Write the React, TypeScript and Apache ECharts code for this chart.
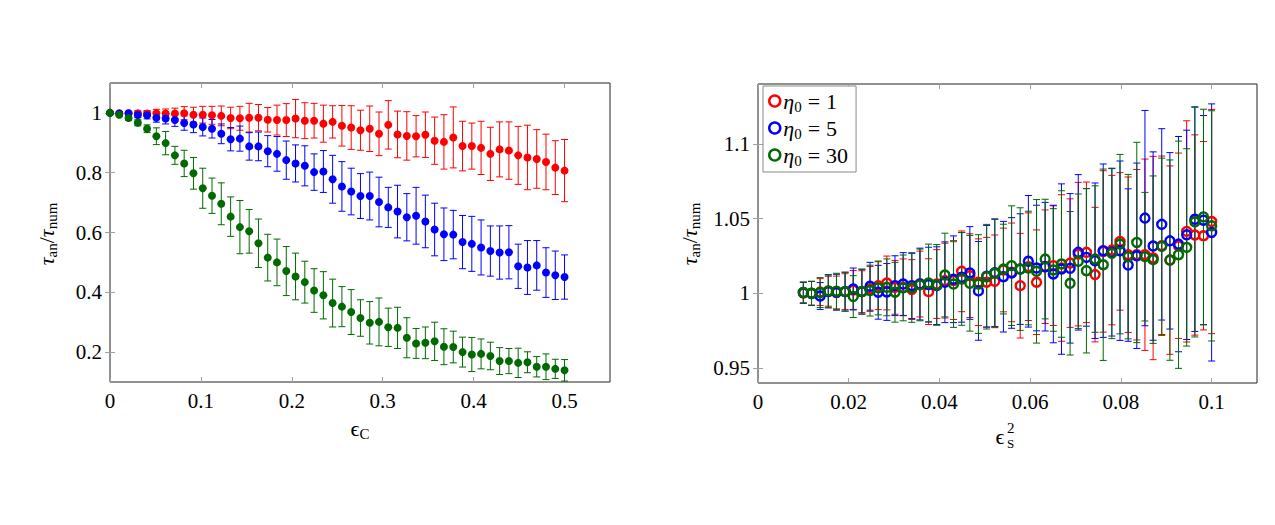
import { useEffect, useRef } from 'react';
import * as echarts from 'echarts';

// ---- left panel: tau_an / tau_num versus epsilon_C ----
const epsC = [
  0, 0.0102, 0.0204, 0.0306, 0.0408, 0.051, 0.0612, 0.0714, 0.0816, 0.0918,
  0.102, 0.1122, 0.1224, 0.1327, 0.1429, 0.1531, 0.1633, 0.1735, 0.1837, 0.1939,
  0.2041, 0.2143, 0.2245, 0.2347, 0.2449, 0.2551, 0.2653, 0.2755, 0.2857, 0.2959,
  0.3061, 0.3163, 0.3265, 0.3367, 0.3469, 0.3571, 0.3673, 0.3776, 0.3878, 0.398,
  0.4082, 0.4184, 0.4286, 0.4388, 0.449, 0.4592, 0.4694, 0.4796, 0.4898, 0.5,
];
const leftRed = [
  1.0, 0.999, 0.999, 0.999, 0.998, 0.999, 0.998, 0.998, 0.999, 0.994,
  0.994, 0.992, 0.99, 0.983, 0.982, 0.984, 0.984, 0.977, 0.976, 0.976,
  0.981, 0.974, 0.974, 0.964, 0.97, 0.957, 0.951, 0.942, 0.947, 0.93,
  0.96, 0.928, 0.923, 0.922, 0.927, 0.907, 0.903, 0.918, 0.889, 0.889,
  0.883, 0.863, 0.878, 0.874, 0.858, 0.851, 0.846, 0.836, 0.817, 0.807,
];
const leftRedErr = [
  0, 0.003, 0.005, 0.008, 0.01, 0.013, 0.015, 0.018, 0.022, 0.025,
  0.028, 0.03, 0.033, 0.036, 0.04, 0.048, 0.044, 0.041, 0.05, 0.055,
  0.064, 0.06, 0.058, 0.062, 0.054, 0.068, 0.073, 0.067, 0.076, 0.073,
  0.081, 0.078, 0.081, 0.069, 0.076, 0.079, 0.091, 0.102, 0.083, 0.077,
  0.089, 0.089, 0.092, 0.096, 0.097, 0.108, 0.098, 0.093, 0.09, 0.104,
];
const leftBlue = [
  1.0, 0.998, 0.999, 0.993, 0.992, 0.984, 0.981, 0.976, 0.966, 0.961,
  0.953, 0.947, 0.93, 0.912, 0.914, 0.888, 0.888, 0.872, 0.863, 0.842,
  0.831, 0.823, 0.802, 0.804, 0.778, 0.754, 0.737, 0.722, 0.722, 0.702,
  0.684, 0.67, 0.651, 0.656, 0.637, 0.61, 0.594, 0.593, 0.568, 0.562,
  0.55, 0.538, 0.533, 0.534, 0.487, 0.483, 0.49, 0.466, 0.457, 0.451,
];
const leftBlueErr = [
  0, 0.003, 0.006, 0.009, 0.012, 0.015, 0.018, 0.021, 0.024, 0.027,
  0.03, 0.031, 0.033, 0.039, 0.042, 0.046, 0.048, 0.052, 0.058, 0.064,
  0.062, 0.067, 0.061, 0.07, 0.08, 0.083, 0.078, 0.075, 0.08, 0.083,
  0.067, 0.088, 0.079, 0.095, 0.088, 0.088, 0.088, 0.081, 0.089, 0.092,
  0.092, 0.084, 0.089, 0.089, 0.074, 0.09, 0.083, 0.083, 0.081, 0.074,
];
const leftGreen = [
  1.0, 0.994, 0.983, 0.967, 0.947, 0.922, 0.899, 0.858, 0.831, 0.798,
  0.748, 0.723, 0.696, 0.653, 0.618, 0.604, 0.564, 0.516, 0.5, 0.471,
  0.453, 0.434, 0.406, 0.39, 0.364, 0.352, 0.334, 0.314, 0.298, 0.301,
  0.283, 0.281, 0.248, 0.229, 0.231, 0.236, 0.218, 0.217, 0.2, 0.192,
  0.194, 0.187, 0.17, 0.17, 0.164, 0.166, 0.151, 0.151, 0.144, 0.139,
];
const leftGreenErr = [
  0, 0.004, 0.008, 0.01, 0.013, 0.028, 0.039, 0.03, 0.044, 0.053,
  0.067, 0.059, 0.07, 0.066, 0.089, 0.073, 0.081, 0.078, 0.078, 0.082,
  0.078, 0.07, 0.073, 0.079, 0.08, 0.067, 0.075, 0.061, 0.071, 0.08,
  0.064, 0.069, 0.067, 0.05, 0.053, 0.064, 0.06, 0.053, 0.05, 0.057,
  0.05, 0.046, 0.045, 0.042, 0.049, 0.035, 0.034, 0.043, 0.032, 0.036,
];

// ---- right panel: tau_an / tau_num versus epsilon_S^2 for three eta_0 ----
const epsS2 = [
  0.01, 0.0118, 0.0137, 0.0155, 0.0173, 0.0192, 0.021, 0.0229, 0.0247, 0.0265,
  0.0284, 0.0302, 0.032, 0.0339, 0.0357, 0.0376, 0.0394, 0.0412, 0.0431, 0.0449,
  0.0467, 0.0486, 0.0504, 0.0522, 0.0541, 0.0559, 0.0578, 0.0596, 0.0614, 0.0633,
  0.0651, 0.0669, 0.0688, 0.0706, 0.0724, 0.0743, 0.0761, 0.078, 0.0798, 0.0816,
  0.0835, 0.0853, 0.0871, 0.089, 0.0908, 0.0927, 0.0945, 0.0963, 0.0982, 0.1,
];
const eta1 = [
  1.0002, 1.0, 1.0008, 1.0014, 1.0005, 1.0011, 1.0022, 1.0011, 1.0029, 1.0051,
  1.0069, 1.004, 1.004, 1.0025, 1.0062, 1.0011, 1.0062, 1.0085, 1.0085, 1.0147,
  1.0118, 1.0074, 1.0074, 1.008, 1.0156, 1.014, 1.0051, 1.0178, 1.0074, 1.0178,
  1.0185, 1.0169, 1.0202, 1.0262, 1.0274, 1.0125, 1.028, 1.0289, 1.0347, 1.0258,
  1.0258, 1.0258, 1.0236, 1.0318, 1.0222, 1.0318, 1.0414, 1.039, 1.0385, 1.048,
];
const eta1Err = [
  0.007, 0.008, 0.009, 0.01, 0.011, 0.012, 0.013, 0.014, 0.015, 0.016,
  0.018, 0.018, 0.019, 0.02, 0.022, 0.022, 0.023, 0.025, 0.026, 0.027,
  0.028, 0.029, 0.03, 0.031, 0.028, 0.033, 0.035, 0.036, 0.035, 0.038,
  0.04, 0.049, 0.043, 0.048, 0.047, 0.045, 0.054, 0.05, 0.046, 0.052,
  0.057, 0.064, 0.068, 0.06, 0.063, 0.062, 0.074, 0.067, 0.063, 0.075,
];
const eta5 = [
  1.0005, 0.9999, 0.9982, 1.0012, 1.0007, 1.0011, 1.0029, 1.0011, 1.0047, 1.0007,
  1.0009, 1.0051, 1.0062, 1.0051, 1.0062, 1.0058, 1.0051, 1.0074, 1.0094, 1.0107,
  1.0136, 1.0016, 1.0114, 1.0138, 1.0111, 1.0136, 1.0162, 1.0214, 1.0169, 1.0178,
  1.0129, 1.0162, 1.0167, 1.0274, 1.024, 1.0218, 1.0285, 1.0274, 1.0285, 1.0189,
  1.0251, 1.0503, 1.0316, 1.0461, 1.0351, 1.0329, 1.0391, 1.0495, 1.0489, 1.0407,
];
const eta5Err = [
  0.007, 0.008, 0.009, 0.011, 0.012, 0.013, 0.014, 0.015, 0.016, 0.018,
  0.019, 0.02, 0.021, 0.022, 0.024, 0.025, 0.026, 0.027, 0.029, 0.03,
  0.031, 0.033, 0.034, 0.036, 0.037, 0.037, 0.037, 0.044, 0.042, 0.043,
  0.046, 0.057, 0.05, 0.052, 0.046, 0.052, 0.058, 0.056, 0.06, 0.051,
  0.062, 0.072, 0.063, 0.064, 0.059, 0.072, 0.07, 0.075, 0.07, 0.086,
];
const eta30 = [
  1.0005, 1.0, 1.0005, 1.0016, 1.0014, 1.0011, 0.9978, 1.0011, 1.0018, 1.0036,
  1.004, 1.0007, 1.0036, 1.0036, 1.0056, 1.0069, 1.0056, 1.0122, 1.0062, 1.0096,
  1.0067, 1.0062, 1.0111, 1.0134, 1.0162, 1.0185, 1.0162, 1.0169, 1.0147, 1.0229,
  1.0156, 1.0196, 1.0067, 1.0214, 1.0151, 1.0229, 1.0191, 1.0267, 1.0329, 1.0245,
  1.034, 1.0245, 1.0225, 1.0314, 1.0222, 1.0258, 1.0307, 1.0478, 1.0511, 1.0451,
];
const eta30Err = [
  0.007, 0.008, 0.01, 0.011, 0.012, 0.013, 0.014, 0.015, 0.017, 0.018,
  0.019, 0.02, 0.022, 0.023, 0.024, 0.026, 0.027, 0.028, 0.029, 0.031,
  0.032, 0.033, 0.035, 0.036, 0.03, 0.04, 0.041, 0.038, 0.048, 0.04,
  0.041, 0.049, 0.048, 0.045, 0.055, 0.049, 0.064, 0.057, 0.06, 0.055,
  0.067, 0.043, 0.056, 0.059, 0.067, 0.076, 0.066, 0.077, 0.072, 0.077,
];

const etaValues = ['1', '5', '30'];
const legendNames = ['η₀ = 1', 'η₀ = 5', 'η₀ = 30'];

const leftXTicks = [0, 0.1, 0.2, 0.3, 0.4, 0.5];
const leftYTicks = [0.2, 0.4, 0.6, 0.8, 1];
const rightXTicks = [0, 0.02, 0.04, 0.06, 0.08, 0.1];
const rightYTicks = [0.95, 1, 1.05, 1.1];

const RED = '#ff0000';
const BLUE = '#0000ff';
const GREEN = '#006a00';
const SERIF = 'Liberation Serif';
const TICK_COLOR = '#a0a0a0';

const mathRich = {
  m: { fontFamily: SERIF, fontSize: 22, fontStyle: 'italic', lineHeight: 26, verticalAlign: 'middle', color: '#000' },
  r: { fontFamily: SERIF, fontSize: 22, lineHeight: 26, verticalAlign: 'middle', color: '#000' },
  eq: { fontFamily: SERIF, fontSize: 22, lineHeight: 26, verticalAlign: 'middle', color: '#000', padding: [0, 6, 0, 6] },
  sub: { fontFamily: SERIF, fontSize: 15, lineHeight: 14, verticalAlign: 'bottom', color: '#000' },
};

function errorBars(xs: number[], ys: number[], es: number[], color: string, axis: number) {
  return {
    type: 'custom',
    xAxisIndex: axis * 2,
    yAxisIndex: axis * 2,
    silent: true,
    encode: { x: 0, y: 1 },
    data: xs.map((x, i) => [x, ys[i], es[i]]),
    renderItem: (_params: any, api: any) => {
      const x = api.value(0);
      const y = api.value(1);
      const e = api.value(2);
      const top = api.coord([x, y + e]);
      const bot = api.coord([x, y - e]);
      const cap = 3.5;
      const style = { stroke: color, lineWidth: 1 };
      return {
        type: 'group',
        children: [
          { type: 'line', shape: { x1: top[0], y1: top[1], x2: bot[0], y2: bot[1] }, style },
          { type: 'line', shape: { x1: top[0] - cap, y1: top[1], x2: top[0] + cap, y2: top[1] }, style },
          { type: 'line', shape: { x1: bot[0] - cap, y1: bot[1], x2: bot[0] + cap, y2: bot[1] }, style },
        ],
      };
    },
  };
}

function filledDots(name: string, xs: number[], ys: number[], color: string) {
  return {
    type: 'scatter',
    name,
    xAxisIndex: 0,
    yAxisIndex: 0,
    symbol: 'circle',
    symbolSize: 8,
    itemStyle: { color, opacity: 1 },
    data: xs.map((x, i) => [x, ys[i]]),
  };
}

function rings(name: string, xs: number[], ys: number[], color: string) {
  return {
    type: 'scatter',
    name,
    xAxisIndex: 2,
    yAxisIndex: 2,
    symbol: 'circle',
    symbolSize: 9,
    itemStyle: { color: 'rgba(255,255,255,0)', borderColor: color, borderWidth: 2.4, opacity: 1 },
    data: xs.map((x, i) => [x, ys[i]]),
  };
}

function valueAxis(gridIndex: number, position: string, min: number, max: number, ticks: number[], labels: boolean) {
  return {
    type: 'value',
    gridIndex,
    position,
    min,
    max,
    axisLine: { show: false },
    splitLine: { show: false },
    axisTick: {
      show: true,
      inside: true,
      length: 5,
      customValues: ticks,
      lineStyle: { color: TICK_COLOR, width: 1 },
    },
    axisLabel: {
      show: labels,
      customValues: ticks,
      formatter: (v: number) => String(v),
      fontFamily: SERIF,
      fontSize: 21,
      color: '#000',
      margin: 8,
    },
  };
}

export default function App() {
  const ref = useRef<HTMLDivElement>(null);

  useEffect(() => {
    const chart = echarts.init(ref.current!, null, { renderer: 'svg' });

    const option: any = {
      animation: false,
      backgroundColor: '#ffffff',
      textStyle: { fontFamily: SERIF },
      grid: [
        { left: 110, top: 83, width: 500, height: 299, show: true, borderColor: '#222', borderWidth: 1, backgroundColor: 'transparent' },
        { left: 758, top: 84, width: 499, height: 299, show: true, borderColor: '#222', borderWidth: 1, backgroundColor: 'transparent' },
      ],
      xAxis: [
        valueAxis(0, 'bottom', 0, 0.55, leftXTicks, true),
        valueAxis(0, 'top', 0, 0.55, leftXTicks, false),
        valueAxis(1, 'bottom', 0, 0.11, rightXTicks, true),
        valueAxis(1, 'top', 0, 0.11, rightXTicks, false),
      ],
      yAxis: [
        valueAxis(0, 'left', 0.1, 1.1, leftYTicks, true),
        valueAxis(0, 'right', 0.1, 1.1, leftYTicks, false),
        valueAxis(1, 'left', 0.94, 1.14, rightYTicks, true),
        valueAxis(1, 'right', 0.94, 1.14, rightYTicks, false),
      ],
      legend: {
        show: true,
        orient: 'vertical',
        left: 763,
        top: 86,
        selectedMode: false,
        backgroundColor: '#fff',
        borderColor: '#8a8a8a',
        borderWidth: 1,
        borderRadius: 0,
        padding: [4, 8, 4, 5],
        itemGap: 3,
        itemWidth: 11,
        itemHeight: 11,
        data: legendNames.map((name, i) => ({
          name,
          icon: 'circle',
          itemStyle: { color: 'rgba(255,255,255,0)', borderColor: [RED, BLUE, GREEN][i], borderWidth: 2.5 },
        })),
        formatter: (name: string) => {
          const i = legendNames.indexOf(name);
          return `{m|η}{sub|0}{eq|=}{r|${etaValues[i]}}`;
        },
        textStyle: { fontFamily: SERIF, rich: mathRich, padding: [0, 0, 0, -2] },
      },
      graphic: [
        {
          type: 'text',
          x: 360,
          y: 428,
          style: { text: '{r|ϵ}{sub|C}', rich: mathRich, align: 'center', verticalAlign: 'middle' },
        },
        {
          type: 'group',
          x: 1000,
          y: 436,
          children: [
            { type: 'text', x: 0, y: 0, style: { text: 'ϵ', fontFamily: SERIF, fontSize: 22, fill: '#000', align: 'center', verticalAlign: 'middle' } },
            { type: 'text', x: 7, y: -8, style: { text: '2', fontFamily: SERIF, fontSize: 15, fill: '#000', align: 'left', verticalAlign: 'middle' } },
            { type: 'text', x: 7, y: 7, style: { text: 'S', fontFamily: SERIF, fontSize: 13, fill: '#000', align: 'left', verticalAlign: 'middle' } },
          ],
        },
        {
          type: 'text',
          x: 46,
          y: 234,
          rotation: Math.PI / 2,
          style: { text: '{m|τ}{sub|an}{r|/}{m|τ}{sub|num}', rich: mathRich, align: 'center', verticalAlign: 'middle' },
        },
        {
          type: 'text',
          x: 689,
          y: 234,
          rotation: Math.PI / 2,
          style: { text: '{m|τ}{sub|an}{r|/}{m|τ}{sub|num}', rich: mathRich, align: 'center', verticalAlign: 'middle' },
        },
      ],
      series: [
        errorBars(epsC, leftRed, leftRedErr, RED, 0),
        filledDots('red-c', epsC, leftRed, RED),
        errorBars(epsC, leftBlue, leftBlueErr, BLUE, 0),
        filledDots('blue-c', epsC, leftBlue, BLUE),
        errorBars(epsC, leftGreen, leftGreenErr, GREEN, 0),
        filledDots('green-c', epsC, leftGreen, GREEN),

        errorBars(epsS2, eta1, eta1Err, RED, 1),
        errorBars(epsS2, eta5, eta5Err, BLUE, 1),
        errorBars(epsS2, eta30, eta30Err, GREEN, 1),
        rings(legendNames[0], epsS2, eta1, RED),
        rings(legendNames[1], epsS2, eta5, BLUE),
        rings(legendNames[2], epsS2, eta30, GREEN),
      ],
    };

    chart.setOption(option);
    return () => chart.dispose();
  }, []);

  return (
    <div
      ref={ref}
      style={{ position: 'fixed', left: 0, top: 0, width: 1275, height: 525, background: '#fff' }}
    />
  );
}
